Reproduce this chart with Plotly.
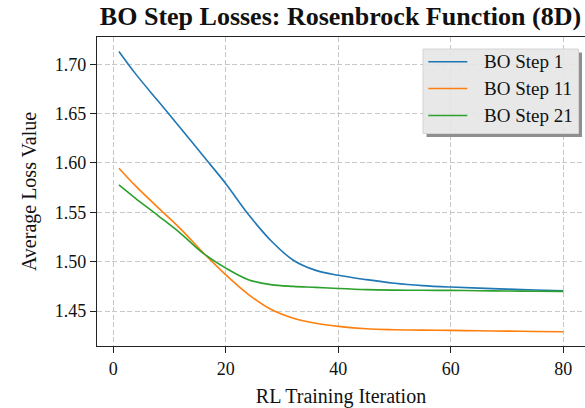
import plotly.graph_objects as go

# RL training iterations at which the average BO losses are plotted
iterations = [1, 4, 8, 12, 16, 20, 24, 28, 32, 36, 40, 45, 50, 55, 60, 65, 70, 75, 80]

# Average loss value per BO step
loss_step1 = [1.7130, 1.6900, 1.6625, 1.6350, 1.6070, 1.5790, 1.5480, 1.5215, 1.5015,
              1.4912, 1.4862, 1.4818, 1.4782, 1.4758, 1.4743, 1.4732, 1.4722, 1.4713, 1.4705]
loss_step11 = [1.5947, 1.5765, 1.5545, 1.5330, 1.5090, 1.4867, 1.4670, 1.4518, 1.4428,
               1.4376, 1.4345, 1.4320, 1.4311, 1.4307, 1.4304, 1.4300, 1.4297, 1.4293, 1.4290]
loss_step21 = [1.5778, 1.5640, 1.5465, 1.5285, 1.5085, 1.4935, 1.4818, 1.4768, 1.4750,
               1.4740, 1.4728, 1.4717, 1.4712, 1.4710, 1.4709, 1.4706, 1.4703, 1.4701, 1.4699]

series_names = ["BO Step 1", "BO Step 11", "BO Step 21"]
series_values = [loss_step1, loss_step11, loss_step21]
series_colors = ["#1f77b4", "#ff7f0e", "#2ca02c"]

x_ticks = [0, 20, 40, 60, 80]
y_ticks = [1.45, 1.50, 1.55, 1.60, 1.65, 1.70]

W, H = 585, 408
M_L, M_R, M_T, M_B = 97, 0, 37, 62
SERIF = "Liberation Serif, Times New Roman, serif"


def px_x(px):
    return (px - M_L) / (W - M_L - M_R)


def px_y(py):
    return (H - M_B - py) / (H - M_T - M_B)


fig = go.Figure()
for name, vals, col in zip(series_names, series_values, series_colors):
    fig.add_trace(go.Scatter(
        x=iterations, y=vals, mode="lines", name=name,
        line=dict(color=col, width=1.6, shape="spline", smoothing=1.0),
        showlegend=False,
    ))

axis_common = dict(
    showline=True, linecolor="#222222", linewidth=1.3,
    ticks="outside", ticklen=6, tickwidth=1.1, tickcolor="#222222",
    showgrid=True, gridcolor="#c8c8c8", gridwidth=1, griddash="5px,2.5px",
    zeroline=False,
    tickfont=dict(family=SERIF, size=18, color="#111111"),
)

fig.update_xaxes(
    range=[-2.9, 83.86], tickvals=x_ticks, ticktext=[str(v) for v in x_ticks],
    mirror=True,
    title=dict(text="RL Training Iteration", font=dict(family=SERIF, size=20, color="#111111"),
               standoff=11),
    **axis_common,
)
fig.update_yaxes(
    range=[1.4146, 1.7276], tickvals=y_ticks, ticktext=[f"{v:.2f}" for v in y_ticks],
    mirror=False,
    title=dict(text="Average Loss Value", font=dict(family=SERIF, size=20, color="#111111"),
               standoff=12),
    **axis_common,
)

# Legend frame with a drop shadow
bx0, by0, bx1, by1 = 423, 49, 578.5, 133.5
off = 3.5
shapes = []
shadow_path = (
    f"M{px_x(bx1)},{px_y(by0 + off)} L{px_x(bx1 + off)},{px_y(by0 + off)} "
    f"L{px_x(bx1 + off)},{px_y(by1 + off)} L{px_x(bx0 + off)},{px_y(by1 + off)} "
    f"L{px_x(bx0 + off)},{px_y(by1)} L{px_x(bx1)},{px_y(by1)} Z"
)
shapes.append(dict(type="path", xref="paper", yref="paper", path=shadow_path,
                   fillcolor="#8f8f8f", line=dict(width=0), layer="above"))
shapes.append(dict(type="rect", xref="paper", yref="paper",
                   x0=px_x(bx0), x1=px_x(bx1), y0=px_y(by1), y1=px_y(by0),
                   fillcolor="rgba(229,229,229,0.9)", line=dict(color="#d4d4d4", width=1),
                   layer="above"))

annotations = []
row_y = [61.7, 88.5, 115.5]
for name, col, ry in zip(series_names, series_colors, row_y):
    shapes.append(dict(type="line", xref="paper", yref="paper",
                       x0=px_x(428.3), x1=px_x(467.3), y0=px_y(ry), y1=px_y(ry),
                       line=dict(color=col, width=1.6), layer="above"))
    annotations.append(dict(xref="paper", yref="paper", x=px_x(481.5), y=px_y(ry),
                            xanchor="left", yanchor="middle", showarrow=False,
                            text=name, font=dict(family=SERIF, size=19, color="#111111")))

fig.update_layout(
    width=W, height=H,
    margin=dict(l=M_L, r=M_R, t=M_T, b=M_B),
    paper_bgcolor="white", plot_bgcolor="white",
    title=dict(text="BO Step Losses: Rosenbrock Function (8D)",
               font=dict(family=SERIF, size=26, color="#111111", weight="bold"),
               x=340.5 / W, xanchor="center",
               y=1 - 16 / H, yanchor="middle", yref="container", xref="container"),
    shapes=shapes,
    annotations=annotations,
    showlegend=False,
)

fig.write_html("out.html")
